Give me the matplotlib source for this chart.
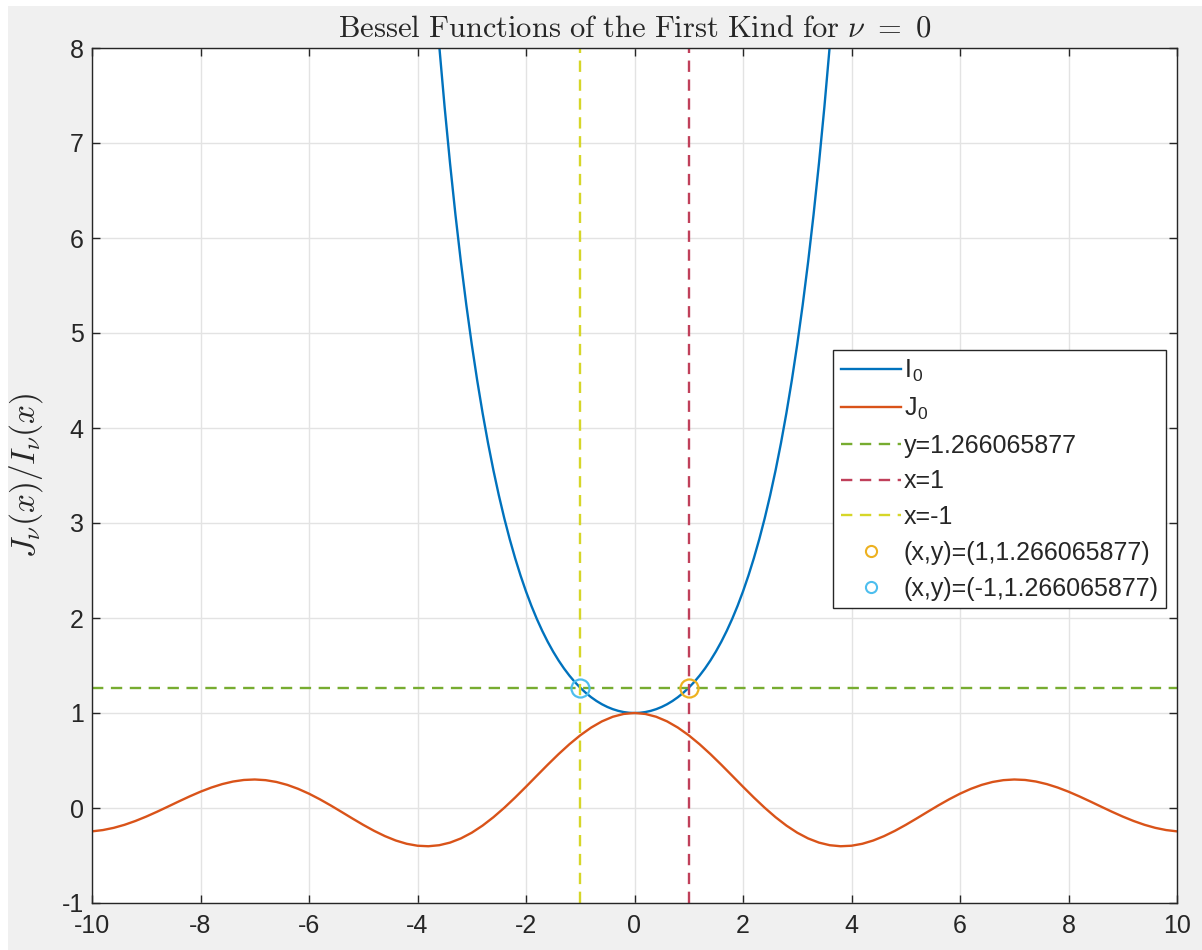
import matplotlib
matplotlib.use("Agg")
import numpy as np
import matplotlib.pyplot as plt
from matplotlib.patches import Rectangle
from matplotlib.lines import Line2D

# ---- data ----
x_J = np.linspace(-10, 10, 101)   # sampling grid, step 0.2
J0 = [-0.2459, -0.2323, -0.2090, -0.1768, -0.1367, -0.0903, -0.0392, 0.0146, 0.0692,
      0.1222, 0.1717, 0.2154, 0.2516, 0.2786, 0.2951, 0.3001, 0.2931, 0.2740, 0.2433,
      0.2017, 0.1506, 0.0917, 0.0270, -0.0412, -0.1103, -0.1776, -0.2404, -0.2961,
      -0.3423, -0.3766, -0.3971, -0.4026, -0.3918, -0.3643, -0.3202, -0.2601, -0.1850,
      -0.0968, 0.0025, 0.1104, 0.2239, 0.3400, 0.4554, 0.5669, 0.6711, 0.7652, 0.8463,
      0.9120, 0.9604, 0.9900, 1.0000, 0.9900, 0.9604, 0.9120, 0.8463, 0.7652, 0.6711,
      0.5669, 0.4554, 0.3400, 0.2239, 0.1104, 0.0025, -0.0968, -0.1850, -0.2601,
      -0.3202, -0.3643, -0.3918, -0.4026, -0.3971, -0.3766, -0.3423, -0.2961, -0.2404,
      -0.1776, -0.1103, -0.0412, 0.0270, 0.0917, 0.1506, 0.2017, 0.2433, 0.2740,
      0.2931, 0.3001, 0.2951, 0.2786, 0.2516, 0.2154, 0.1717, 0.1222, 0.0692, 0.0146,
      -0.0392, -0.0903, -0.1367, -0.1768, -0.2090, -0.2323, -0.2459]

x_I = np.linspace(-3.7, 3.7, 75)  # sampling grid, step 0.1
I0 = [8.7386, 8.0277, 7.3782, 6.7848, 6.2426, 5.7472, 5.2945, 4.8808, 4.5027, 4.1573,
      3.8417, 3.5533, 3.2898, 3.0493, 2.8296, 2.6291, 2.4463, 2.2796, 2.1277, 1.9896,
      1.8640, 1.7500, 1.6467, 1.5534, 1.4693, 1.3937, 1.3262, 1.2661, 1.2130, 1.1665,
      1.1263, 1.0920, 1.0635, 1.0404, 1.0226, 1.0100, 1.0025, 1.0000, 1.0025, 1.0100,
      1.0226, 1.0404, 1.0635, 1.0920, 1.1263, 1.1665, 1.2130, 1.2661, 1.3262, 1.3937,
      1.4693, 1.5534, 1.6467, 1.7500, 1.8640, 1.9896, 2.1277, 2.2796, 2.4463, 2.6291,
      2.8296, 3.0493, 3.2898, 3.5533, 3.8417, 4.1573, 4.5027, 4.8808, 5.2945, 5.7472,
      6.2426, 6.7848, 7.3782, 8.0277, 8.7386]

y_level = 1.266065877
x_right = 1
x_left = -1
x_ticks = [-10, -8, -6, -4, -2, 0, 2, 4, 6, 8, 10]
y_ticks = [-1, 0, 1, 2, 3, 4, 5, 6, 7, 8]

labels = ["I$_{\\mathregular{0}}$", "J$_{\\mathregular{0}}$", "y=1.266065877", "x=1", "x=-1",
          "(x,y)=(1,1.266065877)", "(x,y)=(-1,1.266065877)"]

# ---- styling ----
plt.rcParams["font.family"] = ["Liberation Sans", "DejaVu Sans"]
plt.rcParams["mathtext.fontset"] = "cm"
plt.rcParams["axes.unicode_minus"] = False

BG = "#f0f0f0"
fig = plt.figure(figsize=(12.02, 9.5), dpi=100, facecolor="white")
fig.patches.append(Rectangle((8/1202, 0), 1 - 8/1202, 1 - 6/950, transform=fig.transFigure,
                             facecolor=BG, edgecolor="none", zorder=-10))

L, R, T, B = 92, 1177, 48, 903
ax = fig.add_axes([L/1202, 1 - B/950, (R - L)/1202, (B - T)/950])
ax.set_facecolor("white")

dash = (0, (4.8, 3.2))
lw = 1.7
l1, = ax.plot(x_I, I0, color="#0072BD", lw=lw)
l2, = ax.plot(x_J, J0, color="#D95319", lw=lw)
l3 = ax.axhline(y_level, color="#77AC30", lw=lw, ls=dash)
l4 = ax.axvline(x_right, color="#C0405A", lw=lw, ls=dash)
l5 = ax.axvline(x_left, color="#D6D628", lw=lw, ls=dash)
ax.plot([x_right], [y_level], ls="none", marker="o", ms=13, mfc="none",
        mec="#EDB120", mew=1.6)
ax.plot([x_left], [y_level], ls="none", marker="o", ms=13, mfc="none",
        mec="#4DBEEE", mew=1.6)

ax.set_xlim(-10, 10)
ax.set_ylim(-1, 8)
ax.set_xticks(x_ticks)
ax.set_yticks(y_ticks)
ax.grid(True, color="#e3e3e3", lw=1.0)
ax.set_axisbelow(True)
ax.tick_params(direction="in", top=True, right=True, length=6, width=1.0,
               colors="#262626", labelsize=18, pad=6)
ax.tick_params(axis="x", pad=8)
for s in ax.spines.values():
    s.set_color("#262626")
    s.set_linewidth(1.0)

ax.set_title(r"$\mathrm{Bessel\ Functions\ of\ the\ First\ Kind\ for\ }\nu\ =\ 0$",
             fontsize=22, color="#262626", pad=8)
ax.set_ylabel(r"$J_\nu(x)/I_\nu(x)$", fontsize=24, color="#262626", labelpad=12)

h6 = Line2D([], [], ls="none", marker="o", ms=8, mfc="none", mec="#EDB120", mew=1.5)
h7 = Line2D([], [], ls="none", marker="o", ms=8, mfc="none", mec="#4DBEEE", mew=1.5)
leg = ax.legend([l1, l2, l3, l4, l5, h6, h7], labels, loc="upper left",
                bbox_to_anchor=((833 - L)/(R - L), 1 - (350 - T)/(B - T)),
                fontsize=18, frameon=True, fancybox=False, framealpha=1,
                edgecolor="#262626", borderpad=0.3, labelspacing=0.47,
                handlelength=2.4, handletextpad=0.12, borderaxespad=0)
leg.get_frame().set_linewidth(1.0)
for t in leg.get_texts():
    t.set_color("#262626")

fig.savefig("out.png", dpi=100, facecolor="white")
